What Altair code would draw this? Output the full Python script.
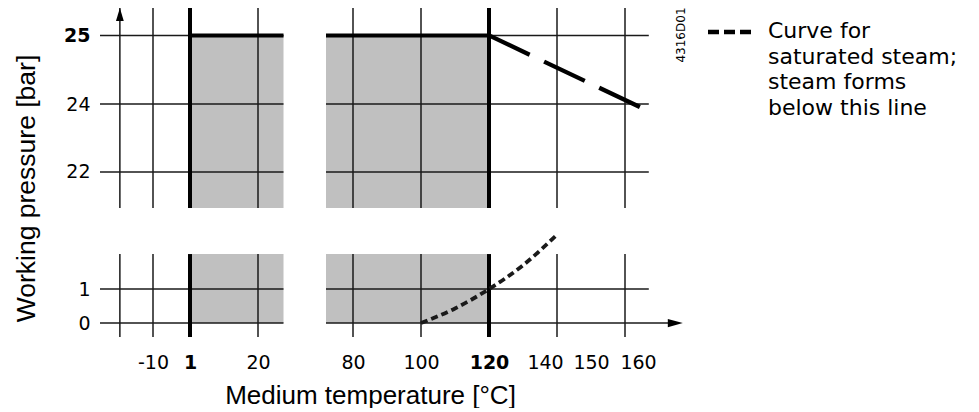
import altair as alt
import pandas as pd

# ---- values -------------------------------------------------------------
TICK_T = [-10, 1, 20, 80, 100, 120, 140, 150, 160]      # x tick labels (°C)
GRID_T = [-20, -10, 20, 80, 100, 140, 160]              # thin vertical grid lines (-20 = axis line)
LIMIT_T = [1, 120]                                      # thick limit lines (°C)
TICK_P = [0, 1, 22, 24, 25]                             # y tick labels (bar)
LIMIT_P = 25                                            # max working pressure (bar)

# broken axes: the two x blocks and the two y panels
X_BLOCKS = [(-26, 27.5), (72, 167)]
Y_PANELS = [(20.94, 25.4), (-0.41, 2.03)]
X_ARROW_TIP = 177
Y_TOP = 25.4

# saturated steam curves
STEAM_LOW_T = [100, 110, 120, 130, 140]
STEAM_LOW_P = [0, 0.43, 1.0, 1.7, 2.6]
STEAM_HIGH_T = [120, 165]
STEAM_HIGH_P = [25, 23.88]

LEGEND_LINES = ["Curve for", "saturated steam;", "steam forms", "below this line"]

# schematic (piecewise) scales
X_DOMAIN = [-26, -10, 1, 20, 27.5, 72, 80, 180]
X_RANGE = [0, 53, 90, 158, 183.5, 226, 253, 593]
Y_DOMAIN = [-0.41, 2.7, 20.94, 24, 25.4]
Y_RANGE = [329, 223.26, 200, 96, 0]

INK = "#1a1a1a"
FILL = "#c0c0c0"

# ---- tables ---------------------------------------------------------------
vert_thin = pd.DataFrame([{"t": t, "p": a, "p2": b} for t in GRID_T for (a, b) in Y_PANELS])
vert_thick = pd.DataFrame([{"t": t, "p": a, "p2": b} for t in LIMIT_T for (a, b) in Y_PANELS])

hrows = []
for p in TICK_P:
    for i, (a, b) in enumerate(X_BLOCKS):
        end = b
        if p == 0 and i == 1:
            end = X_ARROW_TIP - 3
        hrows.append({"t": a, "t2": end, "p": p})
horiz = pd.DataFrame(hrows)

fill_rows = []
for (pa, pb), top in [(Y_PANELS[0], LIMIT_P), (Y_PANELS[1], Y_PANELS[1][1])]:
    bottom = pa if pa > 10 else 0
    fill_rows.append({"t": LIMIT_T[0], "t2": X_BLOCKS[0][1], "p": bottom, "p2": top})
    fill_rows.append({"t": X_BLOCKS[1][0], "t2": LIMIT_T[1], "p": bottom, "p2": top})
fills = pd.DataFrame(fill_rows)

top_limit = pd.DataFrame([
    {"t": LIMIT_T[0], "t2": X_BLOCKS[0][1], "p": LIMIT_P},
    {"t": X_BLOCKS[1][0], "t2": LIMIT_T[1], "p": LIMIT_P},
])

steam_low = pd.DataFrame({"t": STEAM_LOW_T, "p": STEAM_LOW_P})
steam_high = pd.DataFrame({"t": STEAM_HIGH_T, "p": STEAM_HIGH_P})
arrow_y = pd.DataFrame({"t": [GRID_T[0]], "p": [Y_TOP]})
arrow_x = pd.DataFrame({"t": [X_ARROW_TIP], "p": [0]})

# ---- scales / axes ----------------------------------------------------------
XS = alt.Scale(domain=X_DOMAIN, range=X_RANGE, nice=False, zero=False)
YS = alt.Scale(domain=Y_DOMAIN, range=Y_RANGE, nice=False, zero=False)

X_AXIS = alt.Axis(
    values=TICK_T, labelExpr="'' + datum.value",
    ticks=False, tickSize=0, domain=False, grid=False,
    labelOverlap=False, labelFlush=False, labelBound=False,
    labelFont="DejaVu Sans", labelFontSize=19, labelColor="#000", labelPadding=15,
    labelFontWeight={"condition": {"test": "datum.value == 1 || datum.value == 120", "value": "bold"}, "value": "normal"},
    labelOffset={"condition": [{"test": "datum.value == 140", "value": -12},
                               {"test": "datum.value == 160", "value": 13}], "value": 0},
    title="Medium temperature [°C]", titleFont="Liberation Sans", titleFontSize=26,
    titleFontWeight="normal", titleColor="#000", titleX=270, titleY=65,
    titleBaseline="alphabetic", titleAlign="center",
)
Y_AXIS = alt.Axis(
    values=TICK_P, labelExpr="'' + datum.value",
    ticks=False, tickSize=0, domain=False, grid=False,
    labelOverlap=False, labelFlush=False, labelBound=False,
    labelFont="DejaVu Sans", labelFontSize=19, labelColor="#000", labelPadding=10,
    labelFontWeight={"condition": {"test": "datum.value == 25", "value": "bold"}, "value": "normal"},
    title="Working pressure [bar]", titleFont="Liberation Sans", titleFontSize=26.5,
    titleFontWeight="normal", titleColor="#000", titleAngle=270, titleX=-66, titleY=180,
    titleBaseline="alphabetic", titleAlign="center",
)

def X(f="t"):
    return alt.X(f"{f}:Q", scale=XS, axis=X_AXIS)

def Y(f="p"):
    return alt.Y(f"{f}:Q", scale=YS, axis=Y_AXIS)

# ---- layers -----------------------------------------------------------------
shade = alt.Chart(fills).mark_rect(color=FILL).encode(x=X(), x2="t2:Q", y=Y(), y2="p2:Q")
hlines = alt.Chart(horiz).mark_rule(color=INK, strokeWidth=1.5).encode(x=X(), x2="t2:Q", y=Y())
vthin = alt.Chart(vert_thin).mark_rule(color=INK, strokeWidth=1.5).encode(x=X(), y=Y(), y2="p2:Q")
vthick = alt.Chart(vert_thick).mark_rule(color="#000", strokeWidth=4).encode(x=X(), y=Y(), y2="p2:Q")
topline = alt.Chart(top_limit).mark_rule(color="#000", strokeWidth=4).encode(x=X(), x2="t2:Q", y=Y())
low = alt.Chart(steam_low).mark_line(color=INK, strokeWidth=3.8, strokeDash=[7, 4],
                                     interpolate="monotone").encode(x=X(), y=Y())
high = alt.Chart(steam_high).mark_line(color="#000", strokeWidth=4.3, strokeDash=[45, 16],
                                       strokeCap="butt").encode(x=X(), y=Y())
ay = alt.Chart(arrow_y).mark_point(shape="M0,0L0.6,2L-0.6,2Z", size=169, filled=True,
                                   color="#000", opacity=1).encode(x=X(), y=Y())
ax = alt.Chart(arrow_x).mark_point(shape="M0,0L-2,-0.55L-2,0.55Z", size=225, filled=True,
                                   color="#000", opacity=1).encode(x=X(), y=Y())

legend_dash = alt.Chart(arrow_x).mark_rule(color="#000", strokeWidth=4.5, strokeDash=[11, 5]).encode(
    x=alt.value(608), x2=alt.value(652), y=alt.value(24))
legend_text = alt.Chart(arrow_x).mark_text(
    align="left", baseline="alphabetic", font="DejaVu Sans", fontSize=22,
    lineHeight=25.5, color="#000").encode(
    x=alt.value(668), y=alt.value(30), text=alt.value(LEGEND_LINES))
code_text = alt.Chart(arrow_x).mark_text(
    align="center", baseline="middle", font="DejaVu Sans", fontSize=12, angle=270,
    color="#000").encode(x=alt.value(581), y=alt.value(27), text=alt.value("4316D01"))

chart = alt.layer(
    shade, hlines, vthin, vthick, topline, low, high, ay, ax,
    legend_dash, legend_text, code_text,
).properties(
    width=590, height=330,
    autosize=alt.AutoSizeParams(type="none"),
    padding={"left": 92, "top": 0, "right": 281, "bottom": 70},
    background="white",
).configure_view(stroke=None)

chart.save("out.html", embed_options={"renderer": "svg", "actions": False})
